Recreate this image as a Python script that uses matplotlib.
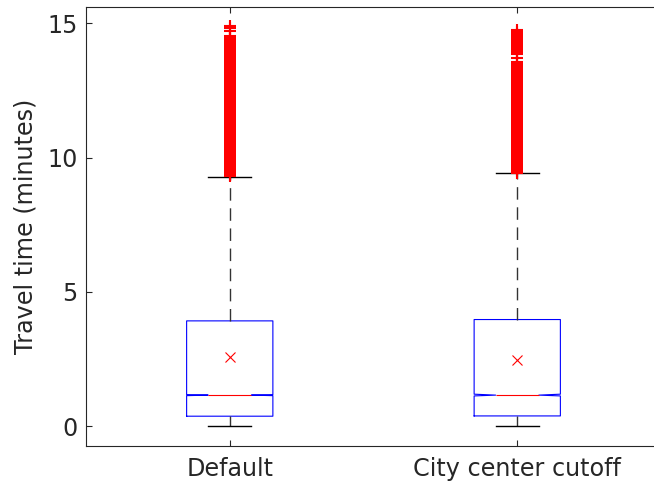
import matplotlib
matplotlib.use("Agg")
import matplotlib.pyplot as plt

# ---- data ----
labels = ["Default", "City center cutoff"]
q1 = [0.37, 0.38]
q3 = [3.92, 3.97]
medians = [1.155, 1.155]
ci_lo = [1.135, 1.125]
ci_hi = [1.175, 1.19]
means = [2.58, 2.48]
whisker_lo = [0.02, 0.02]
whisker_hi = [9.26, 9.41]

fliers_default = [
    9.30, 9.37, 9.44, 9.51, 9.58, 9.65, 9.72, 9.79, 9.86, 9.93,
    10.00, 10.07, 10.14, 10.21, 10.28, 10.35, 10.42, 10.49, 10.56, 10.63,
    10.70, 10.77, 10.84, 10.91, 10.98, 11.05, 11.12, 11.19, 11.26, 11.33,
    11.40, 11.47, 11.54, 11.61, 11.68, 11.75, 11.82, 11.89, 11.96, 12.03,
    12.10, 12.17, 12.24, 12.31, 12.38, 12.45, 12.52, 12.59, 12.66, 12.73,
    12.80, 12.87, 12.94, 13.01, 13.08, 13.15, 13.22, 13.29, 13.36, 13.43,
    13.50, 13.57, 13.64, 13.71, 13.78, 13.85, 13.92, 13.99, 14.06, 14.13,
    14.20, 14.27, 14.34, 14.41, 14.48, 14.54, 14.72, 14.81, 14.90,
]
fliers_cutoff = [
    9.42, 9.49, 9.56, 9.63, 9.70, 9.77, 9.84, 9.91, 9.98, 10.05,
    10.12, 10.19, 10.26, 10.33, 10.40, 10.47, 10.54, 10.61, 10.68, 10.75,
    10.82, 10.89, 10.96, 11.03, 11.10, 11.17, 11.24, 11.31, 11.38, 11.45,
    11.52, 11.59, 11.66, 11.73, 11.80, 11.87, 11.94, 12.01, 12.08, 12.15,
    12.22, 12.29, 12.36, 12.43, 12.50, 12.57, 12.64, 12.71, 12.78, 12.85,
    12.92, 12.99, 13.06, 13.13, 13.20, 13.27, 13.34, 13.41, 13.48, 13.57,
    13.72, 13.85, 13.92, 13.99, 14.06, 14.13, 14.20, 14.27, 14.34, 14.41,
    14.48, 14.55, 14.62, 14.69, 14.77,
]
fliers = [fliers_default, fliers_cutoff]

yticks = [0, 5, 10, 15]
ylabel = "Travel time (minutes)"

# ---- figure ----
plt.rcParams['font.family'] = ['DejaVu Sans']
fig = plt.figure(figsize=(6.54, 4.83), dpi=100)
W, H = 654, 483
left, right, top, bottom = 86, 661, 7, 446
ax = fig.add_axes([left / W, 1 - bottom / H, (right - left) / W, (bottom - top) / H])

stats = []
for i in range(len(labels)):
    stats.append(dict(label=labels[i], q1=q1[i], q3=q3[i], med=medians[i],
                      cilo=ci_lo[i], cihi=ci_hi[i], mean=means[i],
                      whislo=whisker_lo[i], whishi=whisker_hi[i],
                      fliers=fliers[i]))

ax.bxp(stats, positions=[1, 2], widths=0.3, shownotches=True, showmeans=True,
       boxprops=dict(color=(0, 0, 1), linewidth=0.8),
       medianprops=dict(color=(1, 0, 0), linewidth=0.8),
       whiskerprops=dict(color=(0.2, 0.2, 0.2), linewidth=1.0,
                         linestyle=(0, (9, 5.5))),
       capprops=dict(color='black', linewidth=1.0),
       flierprops=dict(marker='+', markersize=9, markeredgewidth=1.5,
                       markeredgecolor=(1, 0, 0), linestyle='none'),
       meanprops=dict(marker='x', markersize=7, markeredgewidth=0.8,
                      markeredgecolor=(1, 0, 0), markerfacecolor='none'))

ax.set_xlim(0.5, 2.5)
ax.set_ylim(-0.74, 15.61)
ax.set_yticks(yticks)
ax.set_xticks([1, 2])
ax.set_xticklabels(labels)

tc = (0.15, 0.15, 0.15)
for s in ax.spines.values():
    s.set_color(tc)
    s.set_linewidth(0.8)
ax.spines['right'].set_visible(False)
ax.tick_params(direction='in', length=4, width=0.8, color=tc,
               labelcolor=tc, labelsize=17.2, top=True)
ax.tick_params(axis='y', pad=6)
ax.tick_params(axis='x', pad=8)
ax.set_ylabel(ylabel, fontsize=17.2, color=tc, labelpad=7)

fig.savefig("out.png", dpi=100)
